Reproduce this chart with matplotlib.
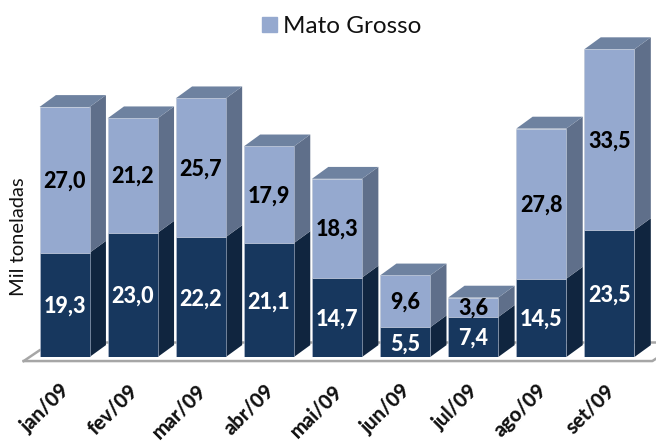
import matplotlib
matplotlib.use("Agg")
import matplotlib.pyplot as plt
from matplotlib.patches import Patch
from matplotlib.transforms import ScaledTranslation

months = ["jan/09", "fev/09", "mar/09", "abr/09", "mai/09", "jun/09", "jul/09", "ago/09", "set/09"]
lower = [19.3, 23.0, 22.2, 21.1, 14.7, 5.5, 7.4, 14.5, 23.5]
mato_grosso = [27.0, 21.2, 25.7, 17.9, 18.3, 9.6, 3.6, 27.8, 33.5]

plt.rcParams["font.family"] = ["Lato", "DejaVu Sans"]

light, light_side, light_top = "#95a9cf", "#5f6f8a", "#6e82a0"
dark, dark_side = "#17375e", "#10253f"

# depth of the fake 3d boxes in data units
dx = 0.24
dy = 2.2
width = 0.735

fig = plt.figure(figsize=(6.56, 4.41), dpi=100)
ax = fig.add_axes([30.5 / 656, (441 - 357) / 441, 613 / 656, 324 / 441])

x = list(range(len(months)))
ax.bar(x, lower, width, color=dark, edgecolor="#b9c3d4", linewidth=0.4, zorder=3)
ax.bar(x, mato_grosso, width, bottom=lower, color=light, edgecolor="#b9c3d4", linewidth=0.4, zorder=3)

for i, (a, b) in enumerate(zip(lower, mato_grosso)):
    r = i + width / 2
    l = i - width / 2
    top = a + b
    ax.fill([r, r + dx, r + dx, r], [0, dy, a + dy, a], color=dark_side, lw=0, zorder=2, clip_on=False)
    ax.fill([r, r + dx, r + dx, r], [a, a + dy, top + dy, top], color=light_side, lw=0, zorder=2, clip_on=False)
    ax.fill([l, l + dx, r + dx, r], [top, top + dy, top + dy, top], color=light_top, lw=0, zorder=2, clip_on=False)
    ax.text(i, a / 2 - 0.3, f"{a:.1f}".replace(".", ","), color="white", fontsize=15.5, fontweight=900,
            ha="center", va="center", zorder=5)
    ax.text(i, a + b / 2 - 0.2, f"{b:.1f}".replace(".", ","), color="black", fontsize=15.5, fontweight=900,
            ha="center", va="center", zorder=5)

# floor of the 3d box
ax.plot([-0.6, -0.36, 0], [-0.75, 1.3, 1.3], color="#a6a6a6", lw=1.8, zorder=1, clip_on=False)
ax.plot([-0.6, 8.63, 8.88], [-0.75, -0.75, 1.3], color="#a6a6a6", lw=1.8, zorder=1, clip_on=False)
ax.plot([0, 8.88], [2.8, 2.8], color="#a6a6a6", lw=1.8, zorder=1, clip_on=False)

ax.set_xlim(-0.5, 8.5)
ax.set_ylim(0, 60)
ax.set_yticks([])
ax.set_xticks(x)
ax.set_xticklabels(months, rotation=45, ha="right", rotation_mode="anchor", fontsize=14.5,
                   fontweight=900, color="#111111")
ax.tick_params(axis="x", length=0, pad=17)
shift = ScaledTranslation(-5 / 100, 0, fig.dpi_scale_trans)
for t in ax.get_xticklabels():
    t.set_transform(t.get_transform() + shift)
for s in ax.spines.values():
    s.set_visible(False)

ax.set_ylabel("Mil toneladas", fontsize=14.5, color="#111111")
ax.yaxis.set_label_coords(-0.005, 0.37)

ax.legend(handles=[Patch(color=light, label="Mato Grosso")], loc="center", bbox_to_anchor=(0.5075, 1.02),
          frameon=False, fontsize=17.5, handlelength=0.62, handleheight=0.62, handletextpad=0.27,
          labelcolor="#111111")

fig.savefig("out.png", dpi=100)
